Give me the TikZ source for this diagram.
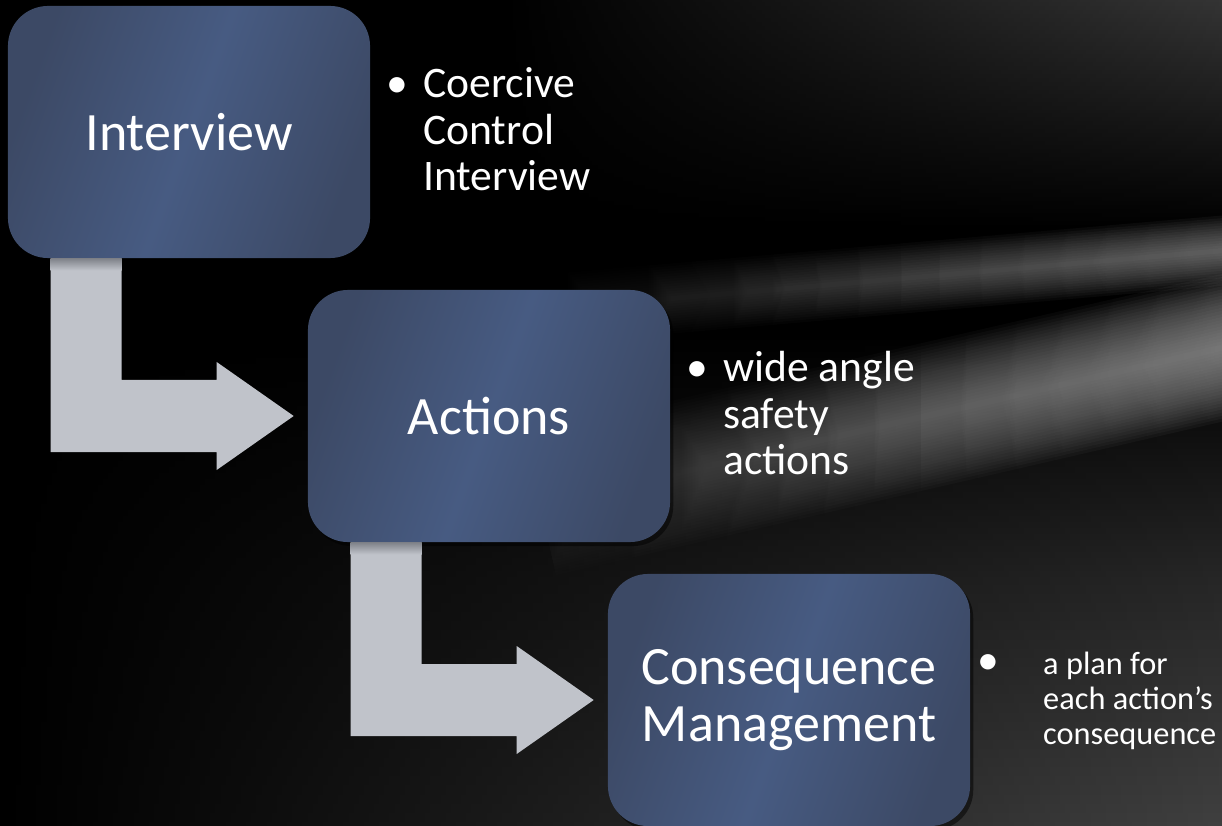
\documentclass[tikz,border=0pt]{standalone}
\usepackage{fontspec}
\setmainfont{Carlito}
\usetikzlibrary{calc,fadings,shadows}
\definecolor{boxmid}{HTML}{475B82}
\definecolor{boxedge}{HTML}{3C4965}
\definecolor{arrowgrey}{HTML}{C0C3CA}
\definecolor{arrowshadow}{HTML}{7E8188}
\definecolor{bglow}{HTML}{444444}
\definecolor{bgtop}{HTML}{3A3A3A}
\definecolor{bandgrey}{HTML}{9A9A9A}
\tikzset{
  stagebox/.style={rounded corners=1cm,minimum width=9.05cm,minimum height=6.3cm,inner sep=0pt,
    left color=boxedge,right color=boxedge,middle color=boxmid,shading angle=70,
    drop shadow={fill=black,opacity=0.5,shadow xshift=0.08cm,shadow yshift=-0.1cm},
    text=white,align=center,font=\fontsize{38.4}{40.5}\selectfont},
  bullettext/.style={anchor=base west,inner sep=0pt,text=white,font=\fontsize{31}{33}\selectfont},
}
% bent block arrow from the foot of one box to the side of the next
\newcommand{\bentarrow}[2]{%
  \fill[arrowgrey] ($(#1.south west)+(43,0)$) coordinate (#1-a) -- ++(71,0)
    |- ($(#2.west)+(-91,-36)$) -- ++(0,-18) -- ($(#2.west)+(-14,0)$)
    -- ($(#2.west)+(-91,54)$) -- ++(0,-18) -| (#1-a) -- cycle;
  \shade[top color=arrowshadow,bottom color=arrowgrey] (#1-a) rectangle ++(71,12);
}
\begin{document}
\begin{tikzpicture}[x=0.025cm,y=-0.025cm]
  \useasboundingbox (0,0) rectangle (1222,826);
  % background
  \fill[black] (0,0) rectangle (1222,826);
  \shade[top color=black,bottom color=bglow,middle color=bglow!60!black,path fading=west] (0,330) rectangle (1300,826);
  \shade[top color=bgtop,bottom color=black,path fading=west] (500,0) rectangle (1300,230);
  \foreach \k in {1,...,14}
    \draw[bandgrey,line width=\k*5*0.025cm,draw opacity=0.08,path fading=west] (540,310) -- (1300,244);
  \foreach \k in {1,...,24}
    \draw[bandgrey,line width=\k*6*0.025cm,draw opacity=0.075,path fading=west] (540,505) -- (1300,330);

  \node[stagebox] (interview) at (189,132) {Interview};
  \node[stagebox] (actions) at (489,416) {Actions};
  \node[stagebox] (consequence) at (789,700) {Consequence\\Management};

  \bentarrow{interview}{actions}
  \bentarrow{actions}{consequence}

  \node[bullettext] (coercive) at (386,98)
    {\begin{tabular}[t]{@{}p{26.3pt}@{}l@{}}•&Coercive\\&Control\\&Interview\end{tabular}};
  \node[bullettext] (wideangle) at (686,382)
    {\begin{tabular}[t]{@{}p{26.3pt}@{}l@{}}•&wide angle\\&safety\\&actions\end{tabular}};
  \node[bullettext,font=\fontsize{23}{25}\selectfont] (plan) at (977,674)
    {\begin{tabular}[t]{@{}p{46.9pt}@{}l@{}}{\fontsize{31}{33}\selectfont•}&a plan for\\&each action’s\\&consequence\end{tabular}};
\end{tikzpicture}
\end{document}
